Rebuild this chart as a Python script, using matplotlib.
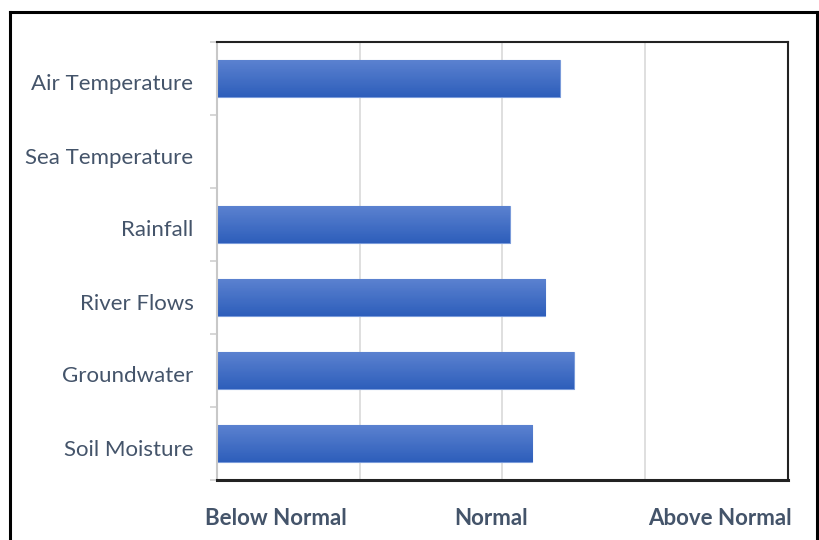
import numpy as np
import matplotlib
matplotlib.use("Agg")
import matplotlib.pyplot as plt
from matplotlib.lines import Line2D
from matplotlib.transforms import ScaledTranslation

# data (0 = below normal, 2 = normal, 4 = above normal)
categories = ["Air Temperature", "Sea Temperature", "Rainfall", "River Flows", "Groundwater", "Soil Moisture"]
values = [2.40, np.nan, 2.05, 2.30, 2.50, 2.21]
xlabels = ["Below Normal", "Normal", "Above Normal"]
xlabel_pos = [0.41, 1.92, 3.52]
grid_pos = [1, 2, 3]

txt_col = "#44546A"
plt.rcParams['font.family'] = ['Lato', 'DejaVu Sans']

fig = plt.figure(figsize=(8.19, 5.40), dpi=100)
ax = fig.add_axes([217/819, 1-480/540, (788-217)/819, (480-42)/540])

y = np.arange(len(categories))
bars = ax.barh(y, values, height=0.5, color="#3A68C6", edgecolor="#7A9BDA", linewidth=0.8, zorder=2)

# gradient fill on each bar, lighter on top
grad = np.linspace(0, 1, 64).reshape(-1, 1)
cmap = matplotlib.colors.LinearSegmentedColormap.from_list("g", ["#2E5EBB", "#5B82D0"])
for b, v in zip(bars, values):
    if np.isnan(v):
        continue
    x0, y0, w, h = b.get_x(), b.get_y(), b.get_width(), b.get_height()
    ax.imshow(grad, extent=[x0, x0 + w, y0, y0 + h], cmap=cmap, aspect="auto",
              origin="upper", zorder=2.5, interpolation="bilinear")

ax.set_xlim(0, 4)
ax.set_ylim(len(categories) - 0.5, -0.5)

ax.set_yticks(y)
ax.set_yticklabels(categories, fontsize=16, color=txt_col)
ax.set_yticks(np.arange(len(categories) + 1) - 0.5, minor=True)
ax.tick_params(axis="y", which="major", length=0, pad=17)
ax.tick_params(axis="y", which="minor", length=5, color="#D0D0D0", width=1.2)
# nudge category labels down a bit, like the original
for lab in ax.get_yticklabels():
    lab.set_transform(lab.get_transform() + ScaledTranslation(0, -0.04, fig.dpi_scale_trans))

ax.set_xticks(grid_pos)
ax.set_xticklabels([])
ax.tick_params(axis="x", which="major", length=0)
ax.set_xticks(xlabel_pos, minor=True)
ax.set_xticklabels(xlabels, minor=True, fontsize=16, fontweight="bold", color=txt_col)
ax.tick_params(axis="x", which="minor", length=0, pad=20)
ax.grid(axis="x", which="major", color="#D9D9D9", linewidth=1.2, zorder=0)
ax.set_axisbelow(True)

for s in ["top", "right"]:
    ax.spines[s].set_color("#222222")
    ax.spines[s].set_linewidth(1.5)
ax.spines["bottom"].set_color("#222222")
ax.spines["bottom"].set_linewidth(2.2)
ax.spines["left"].set_color("#C8C8C8")
ax.spines["left"].set_linewidth(1.5)

# outer frame
fx0, fx1 = 10/819, 817/819
fy = 1 - 12/540
for xs, ys in [([fx0, fx0], [0, fy]), ([fx0, fx1], [fy, fy]), ([fx1, fx1], [fy, 0])]:
    fig.add_artist(Line2D(xs, ys, color="black", linewidth=2.2, transform=fig.transFigure))

fig.savefig("out.png", dpi=100)
